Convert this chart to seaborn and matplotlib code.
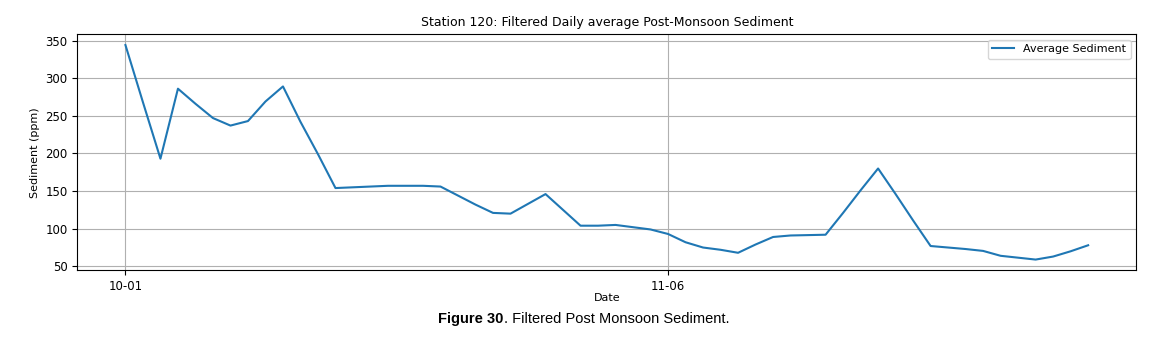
import matplotlib
matplotlib.use("Agg")
import matplotlib.pyplot as plt
import seaborn as sns
import pandas as pd

# filtered daily averages, one value per kept day (index position on the x axis)
sediment = [344, 268, 193, 286, 266, 247, 237, 243, 269, 289,
            242, 199, 154, 155, 156, 157, 157, 157, 156, 144,
            132, 121, 120, 133, 146, 125, 104, 104, 105, 102,
            99, 93, 82, 75, 72, 68, 79, 89, 91, 91.5,
            92, 121, 151, 180, 146, 111, 77, 75, 73, 70.5,
            64, 61.5, 59, 63, 70, 78]
tick_pos = [0, 31]
tick_labels = ["10-01", "11-06"]

df = pd.DataFrame({"idx": range(len(sediment)), "sediment": sediment})

fig = plt.figure(figsize=(11.66, 3.53), dpi=100)
ax = fig.add_axes([0.0663, 0.2343, 0.9082, 0.6685])

sns.lineplot(data=df, x="idx", y="sediment", ax=ax, color="#1f77b4",
             linewidth=1.5, label="Average Sediment")

ax.set_xticks(tick_pos)
ax.set_xticklabels(tick_labels)
ax.tick_params(labelsize=8.5)
ax.set_title("Station 120: Filtered Daily average Post-Monsoon Sediment", fontsize=9)
ax.set_xlabel("Date", fontsize=8, labelpad=0)
ax.set_ylabel("Sediment (ppm)", fontsize=8)
ax.grid(True)
ax.legend(loc="upper right", fontsize=8)

fig.text(0.432, 0.097, "Figure 30", ha="right", va="center", fontsize=10.5,
         fontweight="bold", family="Liberation Sans")
fig.text(0.432, 0.097, ". Filtered Post Monsoon Sediment.", ha="left", va="center",
         fontsize=10.5, family="Liberation Sans")

fig.savefig("out.png", dpi=100)
